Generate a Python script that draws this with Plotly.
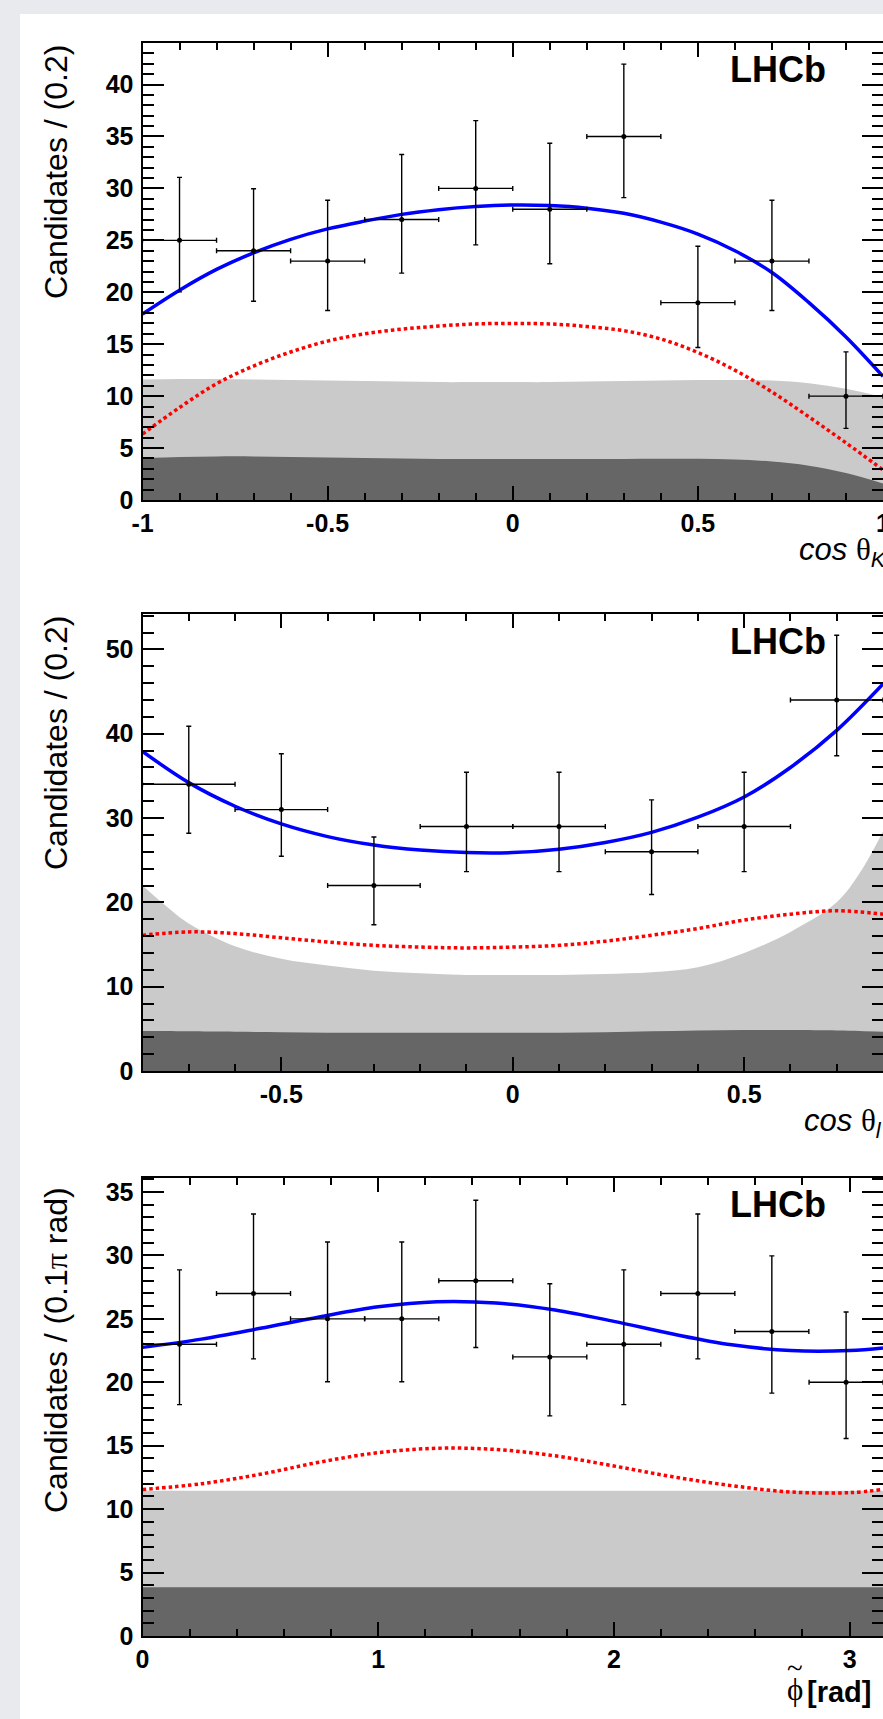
import plotly.graph_objects as go

W, H = 883, 1719

# ---------------- panel 1 : cos(theta_K) ----------------
k_centers = [-0.9, -0.7, -0.5, -0.3, -0.1, 0.1, 0.3, 0.5, 0.7, 0.9]
k_counts = [25, 24, 23, 27, 30, 28, 35, 19, 23, 10]
k_low = [20.04, 19.14, 18.24, 21.84, 24.56, 22.74, 29.11, 14.68, 18.24, 6.90]
k_high = [31.06, 29.96, 28.86, 33.26, 36.53, 34.35, 41.97, 24.43, 28.86, 14.26]
k_halfbin = 0.1
k_cx = [-1.0, -0.9, -0.8, -0.7, -0.6, -0.5, -0.4, -0.3, -0.2, -0.1, 0.0,
        0.1, 0.2, 0.3, 0.4, 0.5, 0.6, 0.7, 0.8, 0.9, 1.0]
k_total = [17.9, 20.2, 22.2, 23.8, 25.1, 26.1, 26.85, 27.5, 27.95, 28.25, 28.4,
           28.35, 28.1, 27.6, 26.75, 25.6, 24.0, 21.9, 19.0, 15.7, 11.9]
k_signal = [6.35, 8.9, 11.2, 12.9, 14.25, 15.3, 16.0, 16.45, 16.75, 16.95, 17.0,
            16.95, 16.7, 16.3, 15.5, 14.2, 12.5, 10.4, 8.0, 5.5, 2.9]
k_bkg_light = [11.6, 11.65, 11.65, 11.6, 11.55, 11.5, 11.45, 11.4, 11.35, 11.35, 11.35,
               11.35, 11.4, 11.45, 11.5, 11.55, 11.55, 11.5, 11.25, 10.7, 9.9]
k_bkg_dark = [4.05, 4.15, 4.2, 4.2, 4.15, 4.1, 4.05, 4.0, 3.95, 3.95, 3.95,
              3.95, 3.95, 3.95, 3.97, 3.97, 3.9, 3.7, 3.3, 2.6, 1.6]
k_tickvals = [-1, -0.5, 0, 0.5, 1]
k_ticktext = ["-1", "-0.5", "0", "0.5", "1"]

# ---------------- panel 2 : cos(theta_l) ----------------
l_centers = [-0.7, -0.5, -0.3, -0.1, 0.1, 0.3, 0.5, 0.7]
l_counts = [34, 31, 22, 29, 29, 26, 29, 44]
l_low = [28.20, 25.47, 17.35, 23.65, 23.65, 20.94, 23.65, 37.39]
l_high = [40.88, 37.62, 27.76, 35.44, 35.44, 32.16, 35.44, 51.68]
l_halfbin = 0.1
l_cx = [-0.8, -0.7, -0.6, -0.5, -0.4, -0.3, -0.2, -0.1, 0.0,
        0.1, 0.2, 0.3, 0.4, 0.5, 0.6, 0.7, 0.8]
l_total = [37.9, 34.2, 31.4, 29.3, 27.8, 26.8, 26.2, 25.9, 25.9,
           26.3, 27.1, 28.3, 30.1, 32.5, 36.0, 40.4, 45.9]
l_signal = [16.1, 16.5, 16.3, 15.8, 15.3, 14.9, 14.7, 14.6, 14.7,
            14.9, 15.4, 16.1, 16.9, 17.9, 18.6, 19.0, 18.6]
l_bx = [-0.8, -0.75, -0.7, -0.6, -0.5, -0.4, -0.3, -0.2, -0.1, 0.0,
        0.1, 0.2, 0.3, 0.4, 0.5, 0.6, 0.7, 0.75, 0.8]
l_bkg_light = [22.0, 19.6, 17.5, 14.8, 13.3, 12.5, 11.9, 11.6, 11.4, 11.4,
               11.4, 11.5, 11.7, 12.3, 14.0, 16.5, 20.0, 23.5, 28.4]
l_bkg_dark = [4.75, 4.75, 4.7, 4.65, 4.6, 4.55, 4.55, 4.55, 4.55, 4.55,
              4.55, 4.6, 4.7, 4.8, 4.85, 4.85, 4.8, 4.75, 4.65]
l_tickvals = [-0.5, 0, 0.5]
l_ticktext = ["-0.5", "0", "0.5"]

# ---------------- panel 3 : phi ----------------
p_centers = [0.157, 0.471, 0.785, 1.100, 1.414, 1.728, 2.042, 2.356, 2.670, 2.985]
p_counts = [23, 27, 25, 25, 28, 22, 23, 27, 24, 20]
p_low = [18.24, 21.84, 20.04, 20.04, 22.74, 17.35, 18.24, 21.84, 19.14, 15.57]
p_high = [28.86, 33.26, 31.06, 31.06, 34.35, 27.76, 28.86, 33.26, 29.96, 25.54]
p_halfbin = 0.157
p_cx = [0.0, 0.25, 0.5, 0.75, 1.0, 1.25, 1.5, 1.75, 2.0, 2.25, 2.5, 2.75, 3.0, 3.1416]
p_total = [22.75, 23.4, 24.25, 25.15, 25.95, 26.35, 26.25, 25.7, 24.8, 23.8, 22.95, 22.5, 22.5, 22.7]
p_signal = [11.55, 12.0, 12.75, 13.7, 14.45, 14.8, 14.7, 14.2, 13.4, 12.55, 11.85, 11.35, 11.3, 11.55]
p_bx = [0.0, 3.1416]
p_bkg_light = [11.45, 11.45]
p_bkg_dark = [3.85, 3.85]

# ---------------- geometry (pixels) ----------------
LEFT = 142.5
panels = [
    dict(top=43, bottom=500, xr=[-1, 1], yr=[0, 44], ydt=5, ymin=1, xmin=0.1),
    dict(top=614, bottom=1071, xr=[-0.8, 0.8], yr=[0, 54.2], ydt=10, ymin=2, xmin=0.1),
    dict(top=1178, bottom=1636, xr=[0, 3.14159], yr=[0, 36.1], ydt=5, ymin=1, xmin=0.2),
]

LIGHT = "#cacaca"
DARK = "#666666"
FONT = "Liberation Sans, Arial, sans-serif"
SERIF = "Liberation Serif, Times New Roman, serif"

fig = go.Figure()

datasets = [
    (k_centers, k_counts, k_low, k_high, k_halfbin, k_cx, k_total, k_signal, k_cx, k_bkg_light, k_bkg_dark),
    (l_centers, l_counts, l_low, l_high, l_halfbin, l_cx, l_total, l_signal, l_bx, l_bkg_light, l_bkg_dark),
    (p_centers, p_counts, p_low, p_high, p_halfbin, p_cx, p_total, p_signal, p_bx, p_bkg_light, p_bkg_dark),
]

for i, (cx, cnt, lo, hi, hb, fx, tot, sig, bx, bl, bd) in enumerate(datasets):
    xa = "x" if i == 0 else f"x{i+1}"
    ya = "y" if i == 0 else f"y{i+1}"
    fig.add_trace(go.Scatter(x=bx, y=bl, mode="lines", fill="tozeroy", fillcolor=LIGHT,
                             line=dict(width=0, color=LIGHT, shape="spline"),
                             xaxis=xa, yaxis=ya, showlegend=False, hoverinfo="skip"))
    fig.add_trace(go.Scatter(x=bx, y=bd, mode="lines", fill="tozeroy", fillcolor=DARK,
                             line=dict(width=0, color=DARK, shape="spline"),
                             xaxis=xa, yaxis=ya, showlegend=False, hoverinfo="skip"))
    fig.add_trace(go.Scatter(x=fx, y=sig, mode="lines",
                             line=dict(width=3.5, color="#ff0000", dash="3.5px,3px", shape="spline"),
                             xaxis=xa, yaxis=ya, showlegend=False))
    fig.add_trace(go.Scatter(x=fx, y=tot, mode="lines",
                             line=dict(width=3.5, color="#0000ff", shape="spline"),
                             xaxis=xa, yaxis=ya, showlegend=False))
    eplus = [h - c for h, c in zip(hi, cnt)]
    eminus = [c - l for l, c in zip(lo, cnt)]
    fig.add_trace(go.Scatter(
        x=cx, y=cnt, mode="markers",
        marker=dict(size=5, color="black"),
        error_y=dict(type="data", array=eplus, arrayminus=eminus, symmetric=False,
                     color="black", thickness=1.4, width=2.5),
        error_x=dict(type="data", array=[hb] * len(cx), color="black", thickness=1.4, width=2.5),
        xaxis=xa, yaxis=ya, showlegend=False))

axis_common = dict(showline=True, linecolor="black", linewidth=2, mirror="ticks",
                   ticks="inside", tickcolor="black", tickwidth=1.5, showgrid=False,
                   zeroline=False, automargin=False, ticklabeloverflow="allow",
                   tickfont=dict(family=FONT, size=25, color="black", weight="bold"))

layout = dict(
    width=W, height=H,
    margin=dict(l=0, r=0, t=0, b=0, pad=0),
    paper_bgcolor="#e8eaed",
    plot_bgcolor="rgba(0,0,0,0)",
    showlegend=False,
    template="none",
)

for i, p in enumerate(panels):
    xk = "xaxis" if i == 0 else f"xaxis{i+1}"
    yk = "yaxis" if i == 0 else f"yaxis{i+1}"
    ya = "y" if i == 0 else f"y{i+1}"
    xa = "x" if i == 0 else f"x{i+1}"
    dom_y = [1 - p["bottom"] / H, 1 - p["top"] / H]
    xd = dict(axis_common, domain=[LEFT / W, 1.0], range=p["xr"], anchor=ya,
              ticklen=14, ticklabelstandoff=0,
              minor=dict(ticks="inside", ticklen=7, tickwidth=1.5, tickcolor="black",
                         dtick=p["xmin"], tick0=0, showgrid=False))
    if i == 0:
        xd.update(tickmode="array", tickvals=k_tickvals, ticktext=k_ticktext)
        xd["minor"]["tickmode"] = "linear"
    elif i == 1:
        xd.update(tickmode="array", tickvals=l_tickvals, ticktext=l_ticktext)
        xd["minor"]["tickmode"] = "linear"
    else:
        xd.update(dtick=1, tick0=0)
    yd = dict(axis_common, domain=dom_y, range=p["yr"], anchor=xa,
              dtick=p["ydt"], tick0=0, ticklen=21, ticklabelstandoff=2,
              minor=dict(ticks="inside", ticklen=11, tickwidth=1.5, tickcolor="black",
                         dtick=p["ymin"], tick0=0, showgrid=False))
    layout[xk] = xd
    layout[yk] = yd

fig.update_layout(**layout)

# white card
fig.add_shape(type="rect", xref="paper", yref="paper", x0=20 / W, x1=1.02, y0=-0.02,
              y1=1 - 14 / H, fillcolor="white", line=dict(width=0), layer="below")

def px(x):
    return x / W

def py(y):
    return 1 - y / H

annots = []
# LHCb labels
for yc in [69.5, 641, 1204.5]:
    annots.append(dict(text="<b>LHCb</b>", x=px(778), y=py(yc), xref="paper", yref="paper",
                       xanchor="center", yanchor="middle", showarrow=False,
                       font=dict(family=FONT, size=36, color="black")))
# y titles
ytitles = [("Candidates / (0.2)", 43), ("Candidates / (0.2)", 614),
           ("Candidates / (0.1<span style='font-family:Liberation Serif'>π</span> rad)", 1185)]
for t, ytop in ytitles:
    annots.append(dict(text=t, x=px(56), y=py(ytop), xref="paper", yref="paper",
                       xanchor="center", yanchor="top", textangle=-90, showarrow=False,
                       font=dict(family=FONT, size=32, color="black")))
# x titles
annots.append(dict(text="<i>cos</i> <span style='font-family:Liberation Serif'>θ</span><sub><i>K</i></sub>",
                   x=px(797), y=py(552), xref="paper", yref="paper", xanchor="left",
                   yanchor="middle", showarrow=False, font=dict(family=FONT, size=31, color="black")))
annots.append(dict(text="<i>cos</i> <span style='font-family:Liberation Serif'>θ</span><sub><i>l</i></sub>",
                   x=px(802), y=py(1123), xref="paper", yref="paper", xanchor="left",
                   yanchor="middle", showarrow=False, font=dict(family=FONT, size=31, color="black")))
# phi-tilde label: phi glyph with a tilde placed just above it, then [rad]
annots.append(dict(text="ϕ", x=px(794.5), y=py(1689), xref="paper", yref="paper",
                   xanchor="center", yanchor="middle", showarrow=False,
                   font=dict(family=SERIF, size=31, color="black")))
annots.append(dict(text="~", x=px(794.5), y=py(1668), xref="paper", yref="paper",
                   xanchor="center", yanchor="middle", showarrow=False,
                   font=dict(family=SERIF, size=29, color="black")))
annots.append(dict(text="<b>[rad]</b>", x=px(805), y=py(1692), xref="paper", yref="paper",
                   xanchor="left", yanchor="middle", showarrow=False,
                   font=dict(family=FONT, size=29, color="black")))
fig.update_layout(annotations=annots)

fig.write_html("out.html", config={"displayModeBar": False},
               post_script="document.body.style.margin='0';document.body.style.overflow='hidden';")
